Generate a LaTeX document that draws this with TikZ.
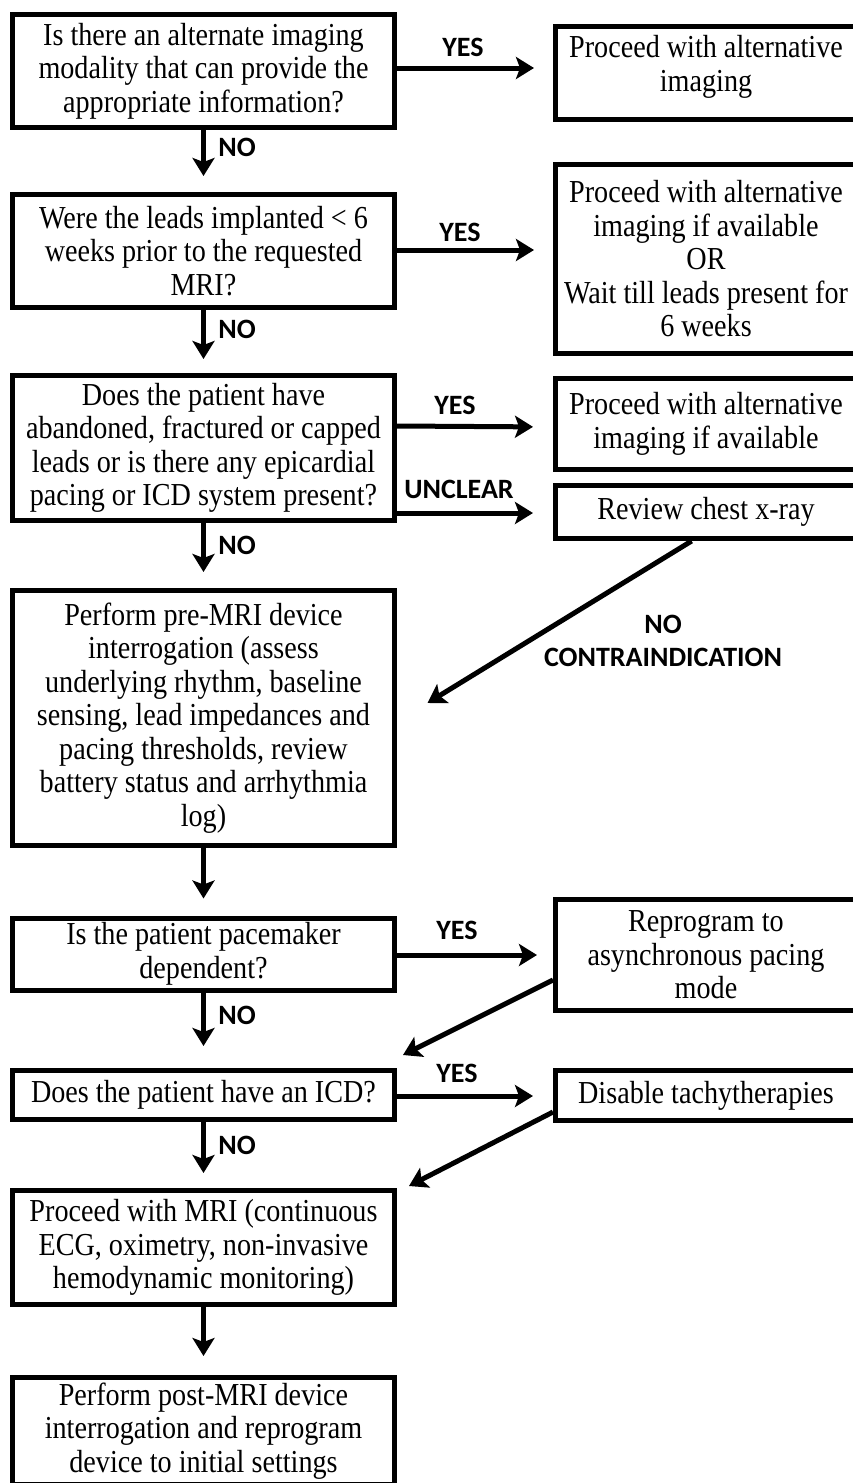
\documentclass[tikz,border=0pt]{standalone}
\usepackage{fontspec}
\setmainfont{Liberation Serif}[FakeStretch=0.88]
\newfontfamily\labfont{Carlito}
\usetikzlibrary{arrows.meta,calc}
\begin{document}
\begin{tikzpicture}[x=1pt,y=-1pt,
  txt/.style={align=center, inner sep=0pt, font=\fontsize{32}{33.5}\selectfont},
  box/.style={txt, draw, line width=5pt},
  lbox/.style={box, minimum width=382pt},
  rbox/.style={box, minimum width=301pt},
  arr/.style={line width=5pt, -{Stealth[length=18pt,width=22pt,inset=4pt]}},
  lab/.style={font=\labfont\bfseries\fontsize{28}{33}\selectfont, inner sep=0pt, align=center}]
\useasboundingbox (0,0) rectangle (852,1483);
% left column
\node[lbox, minimum height=113pt] (b1) at (203.5,71) {Is there an alternate imaging\\modality that can provide the\\appropriate information?};
\node[lbox, minimum height=113pt] (b2) at (203.5,251) {Were the leads implanted < 6\\weeks prior to the requested\\MRI?};
\node[lbox, minimum height=145pt] (b3) at (203.5,448) {Does the patient have\\abandoned, fractured or capped\\leads or is there any epicardial\\pacing or ICD system present?};
\node[lbox, minimum height=255pt] (b4) at (203.5,718) {Perform pre-MRI device\\interrogation (assess\\underlying rhythm, baseline\\sensing, lead impedances and\\pacing thresholds, review\\battery status and arrhythmia\\log)};
\node[lbox, minimum height=72pt] (b5) at (203.5,954) {Is the patient pacemaker\\dependent?};
\node[lbox, minimum height=49pt] (b6) at (203.5,1095) {Does the patient have an ICD?};
\node[lbox, minimum height=114pt] (b7) at (203.5,1247.5) {Proceed with MRI (continuous\\ECG, oximetry, non-invasive\\hemodynamic monitoring)};
\node[lbox, minimum height=107pt] (b8) at (203.5,1431) {Perform post-MRI device\\interrogation and reprogram\\device to initial settings};
% right column
\node[rbox, minimum height=93pt] (r1) at (706,73) {};
\node[txt] (r1t) at (706,67) {Proceed with alternative\\imaging};
\node[rbox, minimum height=189pt] (r2) at (706,259) {Proceed with alternative\\imaging if available\\OR\\Wait till leads present for\\6 weeks};
\node[rbox, minimum height=91pt] (r3) at (706,424) {Proceed with alternative\\imaging if available};
\node[rbox, minimum height=53pt] (rev) at (706,512) {Review chest x-ray};
\node[rbox, minimum height=111pt] (r5) at (706,955) {Reprogram to\\asynchronous pacing\\mode};
\node[rbox, minimum height=50pt] (r6) at (706,1095.5) {Disable tachytherapies};
% vertical arrows
\draw[arr, shorten >=16pt] (b1.south) -- (b2.north);
\draw[arr, shorten >=14pt] (b2.south) -- (b3.north);
\draw[arr, shorten >=16pt] (b3.south) -- (b4.north);
\draw[arr, shorten >=17pt] (b4.south) -- (b5.north);
\draw[arr, shorten >=22pt] (b5.south) -- (b6.north);
\draw[arr, shorten >=15pt] (b6.south) -- (b7.north);
\draw[arr, shorten >=19pt] (b7.south) -- (b8.north);
% horizontal arrows
\draw[arr, shorten >=19pt] (b1.east |- 0,68) -- (r1.west |- 0,68);
\draw[arr, shorten >=19pt] (b2.east |- 0,250) -- (r2.west |- 0,250);
\draw[arr, shorten >=20pt] (b3.east |- 0,426) -- (r3.west |- 0,427);
\draw[arr, shorten >=20pt] (b3.east |- 0,513) -- (rev.west |- 0,513);
\draw[arr, shorten >=16pt] (b5.east |- 0,955) -- (r5.west |- 0,955);
\draw[arr, shorten >=20pt] (b6.east |- 0,1096) -- (r6.west |- 0,1096);
% diagonal arrows
\coordinate (t4) at ($(b4.east)+(30.5,-15)$);
\coordinate (t6) at ($(b6.north east)+(6,-13)$);
\coordinate (t7) at ($(b7.north east)+(12,-2)$);
\draw[arr] ($(rev.south west)!0.453!(rev.south east)$) -- (t4);
\draw[arr] ($(r5.west)+(0,25)$) -- (t6);
\draw[arr] ($(r6.west)+(0,16.5)$) -- (t7);
% labels
\node[lab] (y1) at (463,47) {YES};
\node[lab] (n1) at (237,147) {NO};
\node[lab] (y2) at (460,232) {YES};
\node[lab] (n2) at (237,329) {NO};
\node[lab] (y3) at (455,405) {YES};
\node[lab] (u3) at (459,489) {UNCLEAR};
\node[lab] (n3) at (237,545) {NO};
\node[lab] (nc) at (663,641) {NO\\CONTRAINDICATION};
\node[lab] (y5) at (457,930) {YES};
\node[lab] (n5) at (237,1015) {NO};
\node[lab] (y6) at (457,1073) {YES};
\node[lab] (n6) at (237,1145) {NO};
\end{tikzpicture}
\end{document}
